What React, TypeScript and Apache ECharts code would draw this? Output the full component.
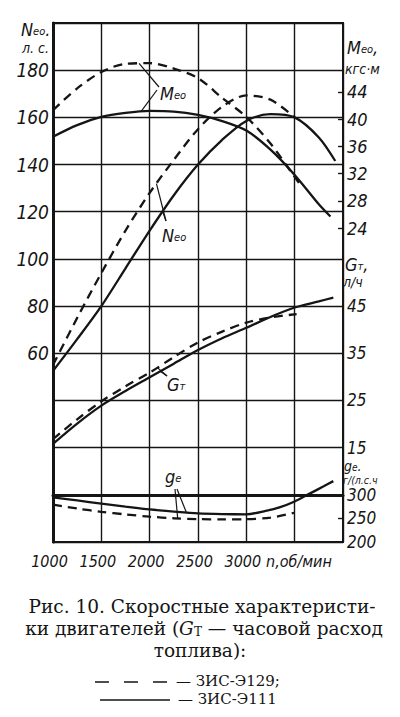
import React, { useEffect, useRef } from "react";
import * as echarts from "echarts";

// ---------- data ----------
// rpm, n (об/мин)
const rpmN129 = [1000, 1250, 1500, 1750, 2000, 2250, 2500, 2750, 3000, 3250, 3500];
const powerN129 = [55, 75, 94, 112, 128, 142, 155, 164.5, 169.3, 167.5, 160];
const rpmN111 = [1000, 1250, 1500, 1750, 2000, 2250, 2500, 2750, 3000, 3250, 3500, 3750, 3920];
const powerN111 = [52.5, 66, 80, 96, 112, 127, 140, 150.5, 158.5, 161.4, 160, 151.5, 141.5];

const rpmM129 = [1000, 1250, 1500, 1750, 2000, 2250, 2500, 2750, 3000, 3250, 3500, 3570];
const torqueM129 = [41.3, 44.5, 46.9, 48.1, 48.2, 47.4, 46.0, 43.1, 40.3, 36.4, 31.5, 30.1];
const rpmM111 = [1000, 1250, 1500, 1750, 2000, 2250, 2500, 2750, 3000, 3250, 3500, 3750, 3870];
const torqueM111 = [37.4, 39.1, 40.3, 40.9, 41.2, 41.1, 40.6, 39.7, 38.3, 35.5, 31.8, 27.5, 25.7];

const rpmG129 = [1000, 1250, 1500, 1750, 2000, 2250, 2500, 2750, 3000, 3250, 3520];
const fuelG129 = [16.8, 21.0, 24.8, 28.0, 30.9, 34.2, 37.3, 39.6, 41.5, 42.6, 43.3];
const rpmG111 = [1000, 1250, 1500, 1750, 2000, 2250, 2500, 2750, 3000, 3250, 3500, 3750, 3900];
const fuelG111 = [15.8, 20.1, 23.9, 27.0, 29.9, 32.8, 35.7, 38.2, 40.4, 42.7, 44.7, 46.0, 46.8];

const rpmGe129 = [1000, 1250, 1500, 1750, 2000, 2250, 2500, 2750, 3000, 3250, 3500];
const specGe129 = [279.3, 271, 264, 258.5, 253.7, 250.3, 248.5, 248, 248.3, 251.7, 262];
const rpmGe111 = [1000, 1250, 1500, 1750, 2000, 2250, 2500, 2750, 3000, 3200, 3350, 3500, 3650, 3800, 3900];
const specGe111 = [294.4, 288, 281.4, 275, 269, 264.5, 260.7, 259.2, 258.7, 266, 274, 286, 302, 318, 329];

// tick labels
const powerLabels = [60, 80, 100, 120, 140, 160, 180];
const torqueTicks = [24, 28, 32, 36, 40, 44];
const fuelTicks = [15, 25, 35, 45];
const geLabels = [200, 250, 300];
const geTicks = [250];
const rpmLabels = [1000, 1500, 2000, 2500, 3000];

// ---------- style / layout ----------
const ink = "#151515";
const narrow = "'Liberation Sans Narrow','DejaVu Sans Condensed','Liberation Sans',sans-serif";
const serif = "'DejaVu Serif','Liberation Serif',serif";

const zip = (xs: number[], ys: number[]) => xs.map((x, i) => [x, ys[i]]);
const interp = (xs: number[], ys: number[], x: number) => {
  for (let i = 0; i < xs.length - 1; i++) {
    if (x >= xs[i] && x <= xs[i + 1]) {
      const t = (x - xs[i]) / (xs[i + 1] - xs[i]);
      return ys[i] + t * (ys[i + 1] - ys[i]);
    }
  }
  return ys[ys.length - 1];
};

const labelBase = {
  color: ink,
  fontFamily: narrow,
  fontStyle: "italic" as const,
};

function lineSeries(name: string, yAxisIndex: number, xs: number[], ys: number[], dashed: boolean) {
  return {
    type: "line",
    name,
    xAxisIndex: 0,
    yAxisIndex,
    data: zip(xs, ys),
    smooth: 0.3,
    symbol: "none",
    silent: true,
    lineStyle: { color: ink, width: 2.3, type: dashed ? [9, 6] : "solid" },
  };
}

export default function App() {
  const ref = useRef<HTMLDivElement>(null);
  useEffect(() => {
    const chart = echarts.init(ref.current!, null, { renderer: "svg", width: 400, height: 717 });
    const option: any = {
      animation: false,
      backgroundColor: "#fff",
      grid: { left: 53, right: 57, top: 23, bottom: 175, show: true, borderColor: ink, borderWidth: 2 },
      xAxis: {
        type: "value",
        min: 1000,
        max: 4000,
        interval: 500,
        axisLine: { show: true, lineStyle: { color: ink, width: 3 } },
        axisTick: { show: false },
        splitLine: { show: true, lineStyle: { color: ink, width: 1.4 } },
        axisLabel: {
          ...labelBase,
          fontSize: 16,
          margin: 11,
          padding: [0, 7, 0, 0],
          formatter: (v: number) => (rpmLabels.includes(v) ? String(v) : ""),
        },
      },
      yAxis: [
        {
          type: "value",
          position: "left",
          min: -20,
          max: 200,
          interval: 20,
          axisLine: { show: true, lineStyle: { color: ink, width: 3 } },
          axisTick: { show: false },
          splitLine: { show: true, lineStyle: { color: ink, width: 1.4 } },
          axisLabel: {
            ...labelBase,
            fontSize: 19,
            margin: 4,
            formatter: (v: number) => (powerLabels.includes(v) ? String(v) : ""),
          },
        },
        {
          type: "value",
          position: "right",
          min: -22.07,
          max: 54.09,
          axisLine: { show: false },
          splitLine: { show: false },
          axisTick: { show: true, inside: true, length: 5, customValues: torqueTicks, lineStyle: { color: ink, width: 1.4 } },
          axisLabel: { ...labelBase, fontSize: 18, margin: 4, customValues: torqueTicks },
        },
        {
          type: "value",
          position: "right",
          min: -5,
          max: 105,
          axisLine: { show: false },
          splitLine: { show: false },
          axisTick: { show: false },
          axisLabel: { ...labelBase, fontSize: 17, margin: 4, padding: [0, 0, 6, 0], customValues: fuelTicks },
        },
        {
          type: "value",
          position: "right",
          min: 200,
          max: 1300,
          axisLine: { show: false },
          splitLine: { show: false },
          axisTick: { show: true, inside: true, length: 5, customValues: geTicks, lineStyle: { color: ink, width: 1.4 } },
          axisLabel: { ...labelBase, fontSize: 17, margin: 4, padding: [7, 0, 0, 0], customValues: geLabels },
        },
      ],
      series: [
        lineSeries("N ЗИС-Э129", 0, rpmN129, powerN129, true),
        lineSeries("N ЗИС-Э111", 0, rpmN111, powerN111, false),
        lineSeries("M ЗИС-Э129", 1, rpmM129, torqueM129, true),
        lineSeries("M ЗИС-Э111", 1, rpmM111, torqueM111, false),
        lineSeries("G ЗИС-Э129", 2, rpmG129, fuelG129, true),
        lineSeries("G ЗИС-Э111", 2, rpmG111, fuelG111, false),
        lineSeries("ge ЗИС-Э129", 3, rpmGe129, specGe129, true),
        lineSeries("ge ЗИС-Э111", 3, rpmGe111, specGe111, false),
      ],
    };
    chart.setOption(option);

    const pt = (axis: number, xs: number[], ys: number[], n: number) =>
      chart.convertToPixel({ xAxisIndex: 0, yAxisIndex: axis } as any, [n, interp(xs, ys, n)]) as number[];
    const leader = (ax: number, ay: number, p: number[]) => ({
      type: "line",
      silent: true,
      shape: { x1: ax, y1: ay, x2: p[0], y2: p[1] },
      style: { stroke: ink, lineWidth: 1.2 },
    });

    const sub = (size: number) => ({ fontSize: size, lineHeight: size, fontFamily: narrow, fontStyle: "italic", fill: ink, padding: [5, 0, 0, 0] });
    const main = (size: number) => ({ fontSize: size, lineHeight: size, fontFamily: narrow, fontStyle: "italic", fill: ink });
    const txt = (x: number, y: number, text: string, rich: any, align = "left") => ({
      type: "text",
      silent: true,
      x,
      y,
      style: { text, rich, align, verticalAlign: "middle", fill: ink, fontFamily: narrow, fontStyle: "italic", fontSize: 16 },
    });
    const richAxis = { a: main(18), b: sub(11), c: main(14) };
    const richGe = { a: main(14), b: { ...sub(10), padding: [4, 0, 0, 0] } };

    const graphic: any[] = [
      // leader lines
      leader(159, 87, pt(1, rpmM129, torqueM129, 1890)),
      leader(157, 90, pt(1, rpmM111, torqueM111, 1910)),
      leader(166, 221, pt(0, rpmN129, powerN129, 2070)),
      leader(166, 221, pt(0, rpmN111, powerN111, 2135)),
      leader(167, 376, pt(2, rpmG129, fuelG129, 2080)),
      leader(167, 376, pt(2, rpmG111, fuelG111, 2110)),
      leader(175, 489, pt(3, rpmGe129, specGe129, 2290)),
      leader(177, 489, pt(3, rpmGe111, specGe111, 2380)),
      // in-plot labels
      txt(160, 93, "{a|M}{b|eo}", richAxis),
      txt(162, 235, "{a|N}{b|eo}", richAxis),
      txt(167, 384, "{a|G}{b|т}", richAxis),
      txt(165, 476, "{a|g}{b|e}", richAxis),
      // axis titles
      txt(21, 29, "{a|N}{b|eo}{a|.}", richAxis),
      txt(22, 48, "{c|л. с.}", richAxis),
      txt(347, 47, "{a|M}{b|eo}{a|,}", richAxis),
      txt(345, 69, "{c|кгс·м}", richAxis),
      txt(345, 264, "{a|G}{b|т}{a|,}", richAxis),
      txt(343, 282, "{c|л/ч}", richAxis),
      txt(344, 465.5, "{a|g}{b|e}{a|.}", richGe),
      txt(343, 479.5, "{d|г/(л.с.ч}", { d: main(10.5) }),
      txt(266, 561, "{d|n,об/мин}", { d: main(16) }),
      // caption
      {
        type: "text",
        silent: true,
        x: 202,
        y: 606,
        style: { text: "Рис. 10. Скоростные характеристи-", align: "center", verticalAlign: "middle", fontFamily: serif, fontSize: 18.5, fill: ink },
      },
      {
        type: "text",
        silent: true,
        x: 204,
        y: 628,
        style: {
          text: "{n|ки двигателей (}{g|G}{s|Т}{n| — часовой расход}",
          align: "center",
          verticalAlign: "middle",
          fontFamily: serif,
          fontSize: 18.5,
          fill: ink,
          rich: {
            n: { fontFamily: serif, fontSize: 18.5, lineHeight: 19, fill: ink },
            g: { fontFamily: serif, fontSize: 18.5, lineHeight: 19, fontStyle: "italic", fill: ink },
            s: { fontFamily: serif, fontSize: 12, lineHeight: 12, fill: ink, padding: [8, 0, 0, 0] },
          },
        },
      },
      {
        type: "text",
        silent: true,
        x: 200,
        y: 650,
        style: { text: "топлива):", align: "center", verticalAlign: "middle", fontFamily: serif, fontSize: 18.5, fill: ink },
      },
      // legend samples
      {
        type: "line",
        silent: true,
        shape: { x1: 95, y1: 682, x2: 168, y2: 682 },
        style: { stroke: ink, lineWidth: 1.6, lineDash: [14, 15] },
      },
      {
        type: "text",
        silent: true,
        x: 176,
        y: 681,
        style: { text: "— ЗИС-Э129;", align: "left", verticalAlign: "middle", fontFamily: serif, fontSize: 15, fill: ink },
      },
      {
        type: "line",
        silent: true,
        shape: { x1: 100, y1: 700, x2: 170, y2: 700 },
        style: { stroke: ink, lineWidth: 1.6 },
      },
      {
        type: "text",
        silent: true,
        x: 178,
        y: 699,
        style: { text: "— ЗИС-Э111", align: "left", verticalAlign: "middle", fontFamily: serif, fontSize: 15, fill: ink },
      },
    ];
    chart.setOption({ graphic });
    return () => chart.dispose();
  }, []);
  return (
    <div
      ref={ref}
      style={{ position: "absolute", left: 0, top: 0, width: 400, height: 717, background: "#fff" }}
    />
  );
}
